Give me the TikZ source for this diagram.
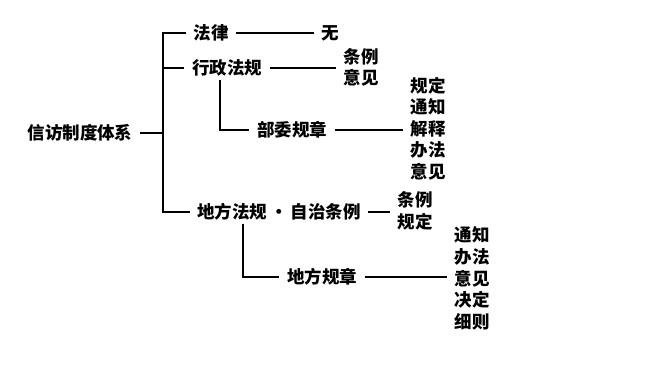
\documentclass[tikz,border=0pt]{standalone}
\usepackage{fontspec}
\newfontfamily\cjk{Noto Sans CJK SC}
\tikzset{
  lbl/.style={font={\cjk\bfseries\fontsize{17.5}{21.6}\selectfont}, inner xsep=7.5pt, inner ysep=3pt, align=left},
  conn/.style={line width=1.3pt, black}
}
\begin{document}
\begin{tikzpicture}[x=1pt,y=-1pt]
\useasboundingbox (0,0) rectangle (657,365);
% nodes
\node[lbl] (root) at (80,133) {信访制度体系};
\node[lbl] (fl) at (211,33) {法律};
\node[lbl] (wu) at (330,33) {无};
\node[lbl] (xz) at (227,68) {行政法规};
\node[lbl] (c1) at (361,67.5) {条例\\意见};
\node[lbl] (bw) at (292,130) {部委规章};
\node[lbl] (c2) at (428,128.5) {规定\\通知\\解释\\办法\\意见};
\node[lbl] (df) at (279,212) {地方法规\,·\,自治条例};
\node[lbl] (c3) at (415,211) {条例\\规定};
\node[lbl] (dz) at (322,277) {地方规章};
\node[lbl] (c4) at (472,278.5) {通知\\办法\\意见\\决定\\细则};
\coordinate (ttop) at (163,33);
\coordinate (tbot) at (163,212);
\coordinate (v1) at (220,0);
\coordinate (v2) at (243,0);
% connectors
\draw[conn] (root.east) -- (root.east -| ttop);
\draw[conn] (fl.west) -- (ttop) -- (tbot) -- (df.west);
\draw[conn] (xz.west) -- (xz.west -| ttop);
\draw[conn] (fl.east) -- (wu.west);
\draw[conn] (xz.east) -- (xz.east -| c1.west);
\draw[conn] (xz.south -| v1) -- (bw.west -| v1) -- (bw.west);
\draw[conn] (bw.east) -- (bw.east -| c2.west);
\draw[conn] (df.east) -- (df.east -| c3.west);
\draw[conn] (df.south -| v2) -- (dz.west -| v2) -- (dz.west);
\draw[conn] (dz.east) -- (dz.east -| c4.west);
\end{tikzpicture}
\end{document}
